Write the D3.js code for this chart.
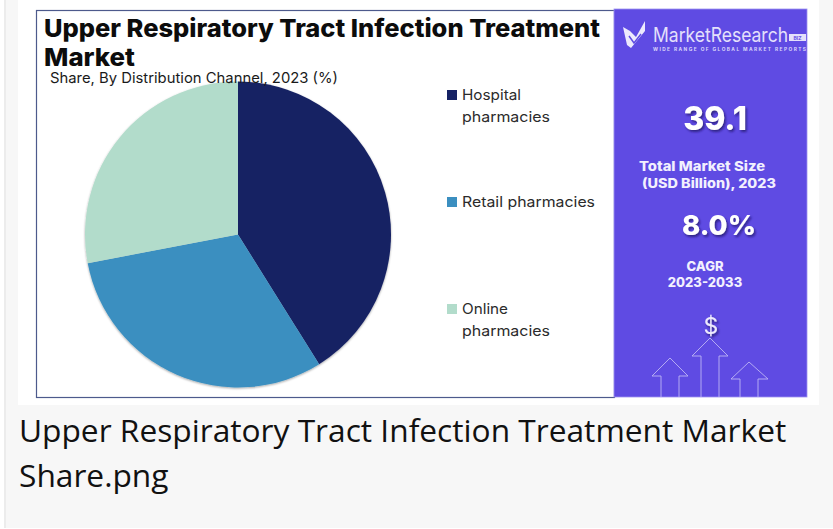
<!DOCTYPE html>
<html>
<head>
<meta charset="utf-8">
<script src="https://cdn.jsdelivr.net/npm/d3@7"></script>
<style>
  html, body { margin: 0; padding: 0; background: #fff; }
  svg { display: block; }
  text { font-family: Inter, sans-serif; }
</style>
</head>
<body>
<div id="chart"></div>
<script>
// values
const channels = ['Hospital pharmacies', 'Retail pharmacies', 'Online pharmacies']
const shares = [41.1, 30.9, 28]
const colors = ['#162264', '#3b8fc0', '#b2dccb']
const legendLines = [['Hospital', 'pharmacies'], ['Retail pharmacies'], ['Online', 'pharmacies']]
const titleLines = ['Upper Respiratory Tract Infection Treatment', 'Market']
const captionLines = ['Upper Respiratory Tract Infection Treatment Market', 'Share.png']

let width = 833
let height = 529
let svg = d3.select('#chart').append('svg').attr('width', width).attr('height', height)

// 投影
let defs = svg.append('defs')
let pieShadow = defs.append('filter').attr('id', 'pieShadow').attr('x', '-5%').attr('y', '-5%').attr('width', '110%').attr('height', '110%')
pieShadow.append('feDropShadow').attr('dx', 0).attr('dy', 1).attr('stdDeviation', 1).attr('flood-color', '#000').attr('flood-opacity', 0.35)
let textShadow = defs.append('filter').attr('id', 'textShadow').attr('x', '-10%').attr('y', '-10%').attr('width', '125%').attr('height', '130%')
textShadow.append('feDropShadow').attr('dx', 1.5).attr('dy', 2).attr('stdDeviation', 1.2).attr('flood-color', '#1d1560').attr('flood-opacity', 0.7)

// page background
svg.append('rect').attr('x', 5).attr('y', 0).attr('width', width - 5).attr('height', 528).attr('fill', '#f7f7f7')
svg.append('rect').attr('x', 4).attr('y', 0).attr('width', 2).attr('height', 528).attr('fill', '#ececec')
svg.append('rect').attr('x', 18).attr('y', 0).attr('width', 801).attr('height', 405).attr('fill', '#fff')

// frame
svg.append('rect').attr('x', 36.5).attr('y', 10.5).attr('width', 578).attr('height', 387)
  .attr('fill', '#fff').attr('stroke', '#4d5a8c').attr('stroke-width', 1.2)

// title
svg.append('g').selectAll('text').data(titleLines).join('text')
  .attr('x', 44).attr('y', (d, i) => 37 + i * 29)
  .attr('font-size', 24.5).attr('font-weight', 800).attr('fill', '#0c0c0c')
  .attr('textLength', (d, i) => i === 0 ? 556 : 91).attr('lengthAdjust', 'spacingAndGlyphs')
  .text(d => d)

// pie
let pie = d3.pie().sort(null).value(d => d)
let arc = d3.arc().innerRadius(0).outerRadius(153)
svg.append('g').attr('transform', 'translate(238,234.5)').attr('filter', 'url(#pieShadow)')
  .selectAll('path').data(pie(shares)).join('path')
  .attr('d', arc).attr('fill', (d, i) => colors[i])

svg.append('text').attr('x', 50).attr('y', 83).attr('font-size', 14.5).attr('fill', '#1a1a1a')
  .attr('textLength', 288).attr('lengthAdjust', 'spacingAndGlyphs')
  .text('Share, By Distribution Channel, 2023 (%)')

// legend
let legendY = d3.scalePoint().domain(channels).range([94.5, 308.5])
let legend = svg.append('g').selectAll('g').data(channels).join('g')
  .attr('transform', d => 'translate(447,' + legendY(d) + ')')
legend.append('rect').attr('x', 0).attr('y', -4.5).attr('width', 10).attr('height', 10)
  .attr('fill', (d, i) => colors[i])
legend.each(function (d, i) {
  d3.select(this).selectAll('text').data(legendLines[i]).join('text')
    .attr('x', 15).attr('y', (t, j) => 5.5 + j * 21.5)
    .attr('font-size', 14.5).attr('fill', '#2b2b2b')
    .attr('textLength', t => t === 'Retail pharmacies' ? 133 : t === 'pharmacies' ? 88 : t === 'Hospital' ? 59 : 46)
    .attr('lengthAdjust', 'spacingAndGlyphs')
    .text(t => t)
})

// right panel
let panel = svg.append('g')
panel.append('rect').attr('x', 614).attr('y', 9).attr('width', 193).attr('height', 388)
  .attr('fill', '#5f4be3').attr('stroke', '#9d92f0').attr('stroke-width', 0.8)

// logo
panel.append('path').attr('d', 'M623 27 L630 31 L636 37 L645 21 L645 31 L631 48 L627 45 Z').attr('fill', '#ece9fd')
panel.append('path').attr('d', 'M629 36 L634 43 L641 34').attr('fill', 'none').attr('stroke', '#5f4be3').attr('stroke-width', 1.5)
panel.append('text').attr('x', 653).attr('y', 41.5).attr('font-size', 20).attr('fill', '#e4e0fb')
  .attr('textLength', 135).attr('lengthAdjust', 'spacingAndGlyphs').text('MarketResearch')
panel.append('rect').attr('x', 789).attr('y', 34).attr('width', 17).attr('height', 7).attr('fill', '#e4e0fb')
panel.append('text').attr('x', 797.5).attr('y', 39.8).attr('text-anchor', 'middle').attr('font-size', 5).attr('font-weight', 700)
  .attr('fill', '#5f4be3').text('BIZ')
panel.append('text').attr('x', 653).attr('y', 50.5).attr('font-size', 4.8).attr('font-weight', 700).attr('fill', '#d9d4fa')
  .attr('textLength', 153).attr('lengthAdjust', 'spacing').text('WIDE RANGE OF GLOBAL MARKET REPORTS')

// key numbers
panel.append('text').attr('x', 715).attr('y', 130).attr('text-anchor', 'middle').attr('font-size', 32).attr('font-weight', 800)
  .attr('fill', '#fff').attr('filter', 'url(#textShadow)').text('39.1')
panel.append('text').attr('x', 639).attr('y', 171).attr('font-size', 13).attr('font-weight', 800).attr('fill', '#f2f0fe')
  .attr('textLength', 126).attr('lengthAdjust', 'spacingAndGlyphs').text('Total Market Size')
panel.append('text').attr('x', 642).attr('y', 188).attr('font-size', 13).attr('font-weight', 800).attr('fill', '#f2f0fe')
  .attr('textLength', 134).attr('lengthAdjust', 'spacingAndGlyphs').text('(USD Billion), 2023')
panel.append('text').attr('x', 719).attr('y', 235).attr('text-anchor', 'middle').attr('font-size', 27.5).attr('font-weight', 800)
  .attr('fill', '#fff').attr('filter', 'url(#textShadow)').text('8.0%')
panel.append('text').attr('x', 705).attr('y', 271).attr('text-anchor', 'middle').attr('font-size', 13).attr('font-weight', 800).attr('fill', '#f2f0fe').text('CAGR')
panel.append('text').attr('x', 705).attr('y', 287).attr('text-anchor', 'middle').attr('font-size', 13).attr('font-weight', 800).attr('fill', '#f2f0fe').text('2023-2033')
panel.append('text').attr('x', 711).attr('y', 334).attr('text-anchor', 'middle').attr('font-size', 23).attr('fill', '#ece9fd')
  .attr('filter', 'url(#textShadow)').text('$')

// arrows
let arrows = [
  'M661 397 V376 H652 L670 358 L688 376 H679 V397',
  'M701 397 V356 H692 L710 338 L728 356 H719 V397',
  'M740 397 V379 H731 L749 362 L768 379 H758 V397'
]
panel.append('g').selectAll('path').data(arrows).join('path')
  .attr('d', d => d).attr('fill', 'none').attr('stroke', '#bdb5f5').attr('stroke-width', 0.9)

// caption
svg.append('g').selectAll('text').data(captionLines).join('text')
  .attr('x', 19).attr('y', (d, i) => 442 + i * 45)
  .attr('font-size', 31.7).attr('fill', '#111')
  .style('font-family', '"Open Sans", sans-serif')
  .text(d => d)
</script>
</body>
</html>
